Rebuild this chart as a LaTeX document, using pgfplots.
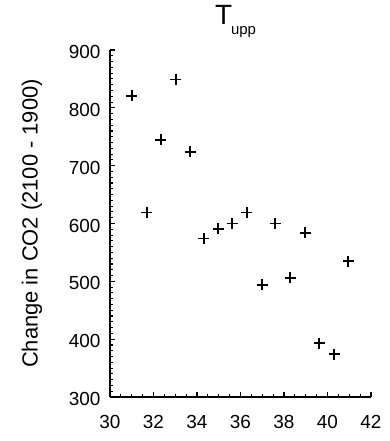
\documentclass[border=0pt]{standalone}
\usepackage{fontspec}
\setmainfont{Liberation Sans}
\usepackage{pgfplots}
\pgfplotsset{compat=1.18}
\begin{document}
\begin{tikzpicture}
\begin{axis}[
  scale only axis, width=261bp, height=347bp,
  xmin=30, xmax=42, ymin=300, ymax=900,
  axis lines*=left, axis line style={-, line width=2.2bp, black},
  xtick={30,32,...,42}, ytick={300,400,...,900},
  minor x tick num=3, minor y tick num=9,
  tick align=inside, major tick length=5bp, minor tick length=3bp,
  every tick/.style={black, line width=1.3bp},
  every minor tick/.style={black, line width=1.1bp},
  /pgf/number format/assume math mode=true,
  tick label style={font=\fontsize{19}{20}\selectfont},
  yticklabel style={xshift=-6bp, yshift=-2bp},
  xticklabel style={yshift=-15bp},
  title={{\fontsize{28}{28}\selectfont T}\kern-1bp{\fontsize{15}{15}\selectfont\raisebox{-10bp}{upp}}},
  title style={anchor=base, at={(axis description cs:0.5,1)}, yshift=20bp, xshift=-5bp},
  ylabel={Change in CO2 (2100 - 1900)},
  every axis y label/.style={at={(axis description cs:0,0.5)}, rotate=90, anchor=center, yshift=78bp, font=\fontsize{22}{24}\selectfont},
]
\addplot[only marks, mark=+, mark size=5.5bp, mark options={line width=1.8bp}, black] coordinates {
(31.00,821) (31.69,619) (32.34,745) (33.02,849) (33.68,724) (34.32,574)
(34.98,591) (35.62,600) (36.29,619) (36.99,494) (37.60,600) (38.28,506)
(38.97,584) (39.62,393) (40.30,374) (40.96,535)
};
\end{axis}
\path (current axis.south west) ++(-110bp,-44bp) rectangle ++(390bp,441bp);
\end{tikzpicture}
\end{document}
